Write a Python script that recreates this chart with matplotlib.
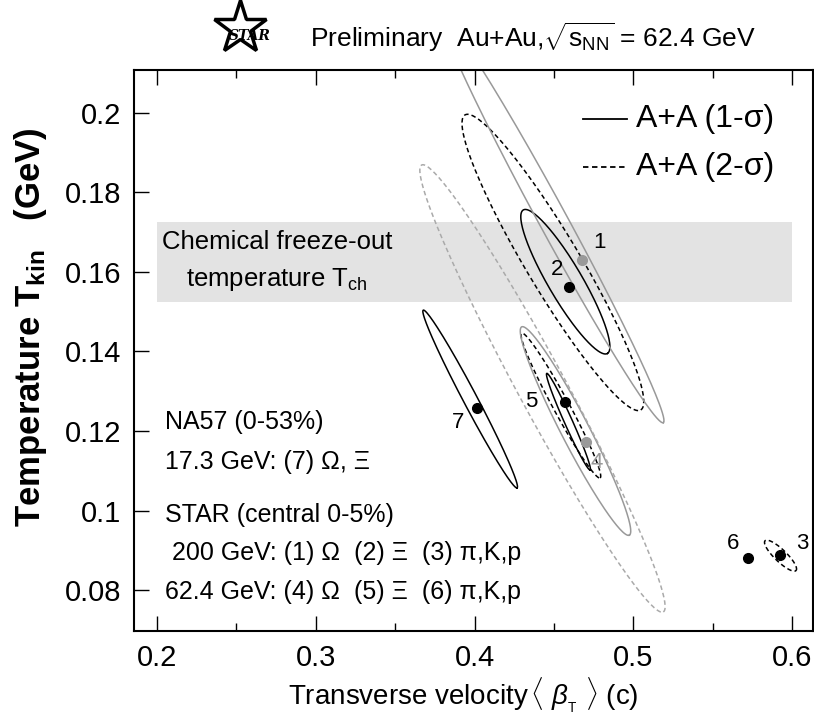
import numpy as np
import matplotlib
matplotlib.use('Agg')
from matplotlib import pyplot as plt
from matplotlib.lines import Line2D

plt.rcParams['font.family'] = ['Liberation Sans', 'DejaVu Sans']
plt.rcParams['mathtext.fontset'] = 'custom'
plt.rcParams['mathtext.rm'] = 'Liberation Sans'
plt.rcParams['mathtext.it'] = 'Liberation Sans:italic'
plt.rcParams['mathtext.bf'] = 'Liberation Sans:bold'

# fit results: <beta_T>, T_kin
labels = ['1', '2', '3', '4', '5', '6', '7']
beta = [0.468, 0.4596, 0.5925, 0.470, 0.457, 0.572, 0.4014]
temp = [0.163, 0.1563, 0.0888, 0.1173, 0.1274, 0.0880, 0.1257]
point_grey = [True, False, False, True, False, False, False]
label_off = [(17, 18), (-12, 17), (22, 12), (11, -21), (-34, 0), (-15, 15), (-19, -14)]

# contour ellipses: major axis end points (x1, y1) -> (x2, y2), half width in px
ell_x1 = [0.4307, 0.3940, 0.3800, 0.3677, 0.4455, 0.4297, 0.4297, 0.3667, 0.5830]
ell_y1 = [0.1756, 0.1995, 0.2240, 0.1504, 0.1345, 0.1446, 0.1462, 0.1869, 0.0924]
ell_x2 = [0.4837, 0.5047, 0.5189, 0.4268, 0.4728, 0.4791, 0.4975, 0.5189, 0.6025]
ell_y2 = [0.1395, 0.1253, 0.1221, 0.1057, 0.1102, 0.1082, 0.0938, 0.0745, 0.0849]
ell_w = [17, 27, 14, 7, 4, 8, 14, 24, 6]
ell_col = ['black', 'black', '#999999', 'black', 'black', 'black', '#999999', '#aaaaaa', 'black']
ell_ls = ['-', '--', '-', '-', '-', '--', '-', '--', '--']

tch_low, tch_high = 0.1525, 0.1725

fig = plt.figure(figsize=(8.14, 7.17), dpi=100)
ax = fig.add_axes([134 / 814, 86 / 717, 679 / 814, 561 / 717])
ax.set_xlim(0.1855, 0.6132)
ax.set_ylim(0.0697, 0.2108)

ax.fill_between([0.2, 0.6], tch_low, tch_high, color='#e3e3e3', lw=0, zorder=0)
ax.text(0.2756, 0.1675, 'Chemical freeze-out', fontsize=18.5, ha='center', va='center')
ax.text(0.2756, 0.1580, r'temperature T$_{\mathrm{ch}}$', fontsize=18.5, ha='center', va='center')

t = np.linspace(0, 2 * np.pi, 200)
for i in range(len(ell_x1)):
    p1 = ax.transData.transform((ell_x1[i], ell_y1[i]))
    p2 = ax.transData.transform((ell_x2[i], ell_y2[i]))
    c = (p1 + p2) / 2
    u = (p2 - p1) / 2
    v = np.array([-u[1], u[0]]) / np.hypot(*u) * ell_w[i]
    pts = c + np.outer(np.cos(t), u) + np.outer(np.sin(t), v)
    d = ax.transData.inverted().transform(pts)
    if ell_ls[i] == '--':
        ax.plot(d[:, 0], d[:, 1], color=ell_col[i], lw=1.1, dashes=(3, 2))
    else:
        ax.plot(d[:, 0], d[:, 1], color=ell_col[i], lw=1.1)

for i in range(len(beta)):
    col = '#999999' if point_grey[i] else 'black'
    ax.plot(beta[i], temp[i], 'o', color=col, markersize=7, zorder=5)
    ax.annotate(labels[i], (beta[i], temp[i]), xytext=label_off[i], textcoords='offset pixels',
                ha='center', va='center', fontsize=16, color=col if labels[i] == '4' else 'black')

# legend
ax.plot([0.4683, 0.4960], [0.1984, 0.1984], color='black', lw=1.3)
ax.plot([0.4683, 0.4960], [0.1863, 0.1863], color='black', lw=1.3, dashes=(3, 2))
ax.text(0.5017, 0.1984, 'A+A (1-σ)', fontsize=23, va='center')
ax.text(0.5017, 0.1863, 'A+A (2-σ)', fontsize=23, va='center')

# notes
notes = ['NA57 (0-53%)', '17.3 GeV: (7) Ω, Ξ', 'STAR (central 0-5%)',
         ' 200 GeV: (1) Ω  (2) Ξ  (3) π,K,p',
         '62.4 GeV: (4) Ω  (5) Ξ  (6) π,K,p']
note_y = [0.1223, 0.1123, 0.0989, 0.0892, 0.0796]
for s, yy in zip(notes, note_y):
    ax.text(0.205, yy, s, fontsize=18, va='center')

ax.set_xticks([0.2, 0.3, 0.4, 0.5, 0.6])
ax.set_xticklabels(['0.2', '0.3', '0.4', '0.5', '0.6'])
ax.set_xticks([0.25, 0.35, 0.45, 0.55], minor=True)
ax.set_yticks([0.08, 0.1, 0.12, 0.14, 0.16, 0.18, 0.2])
ax.set_yticklabels(['0.08', '0.1', '0.12', '0.14', '0.16', '0.18', '0.2'])
ax.tick_params(which='major', direction='in', length=11, width=1, labelsize=21, top=True, pad=9)
ax.tick_params(which='minor', direction='in', length=6, width=1, top=True)
for sp in ax.spines.values():
    sp.set_linewidth(1.5)

ax.set_xlabel(r'Transverse velocity$\,\langle\ \beta_{_{\mathrm{T}}}\ \rangle$ (c)', fontsize=20, labelpad=4)
ax.xaxis.set_label_coords(0.485, -0.08)
ax.set_ylabel(r'Temperature T$_{\mathbf{kin}}$   (GeV)', fontsize=25, fontweight='bold')
ax.yaxis.set_label_coords(-0.125, 0.542)

# header
fig.add_artist(Line2D([240 / 814], [1 - 28 / 717], transform=fig.transFigure, marker='*',
                      markersize=40, markerfacecolor='white', markeredgecolor='black', markeredgewidth=2.5))
fig.text(250 / 814, 1 - 36 / 717, 'STAR', fontsize=10, family='DejaVu Serif', style='italic',
         fontweight='bold', ha='center', va='center')
fig.text(310 / 814, 1 - 47 / 717, r'Preliminary  Au+Au,$\sqrt{\mathrm{s}_{\mathrm{NN}}}$ = 62.4 GeV',
         fontsize=19, va='baseline')

plt.savefig('out.png', dpi=100)
